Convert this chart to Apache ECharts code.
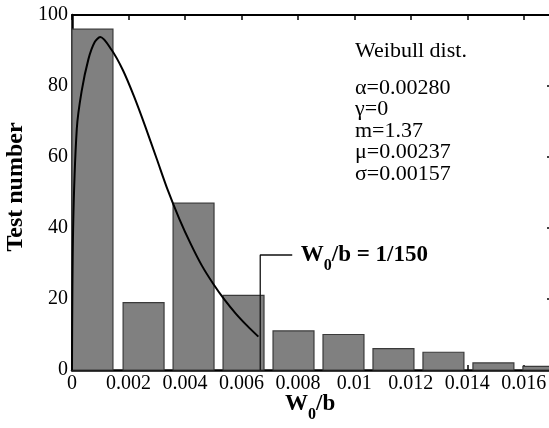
<!DOCTYPE html>
<html>
<head>
<meta charset="utf-8">
<script src="https://cdn.jsdelivr.net/npm/echarts@6/dist/echarts.min.js"></script>
<style>html,body{margin:0;padding:0;background:#fff;}#c{width:549px;height:428px;}</style>
</head>
<body>
<div id="c"></div>
<script>
// ---- data ----
const binStart = [0, 0.00181, 0.00358, 0.00535, 0.00712, 0.00889, 0.01066, 0.01243, 0.0142, 0.01597];
const binEnd   = [0.00145, 0.00326, 0.00503, 0.0068, 0.00857, 0.01034, 0.01211, 0.01388, 0.01565, 0.01742];
const testCounts = [96, 19, 47, 21, 11, 10, 6, 5, 2, 1];
const curveX = [0, 0.00004, 0.00017, 0.00034, 0.00058, 0.0008, 0.001, 0.0014, 0.0018, 0.0022, 0.0026, 0.003, 0.0034, 0.0038, 0.0042, 0.0046, 0.005, 0.0054, 0.0058, 0.0062, 0.0066];
const curveY = [0, 40, 68, 78.5, 87.5, 92.3, 93.8, 90.2, 84.5, 77, 68.5, 59.5, 50.5, 42.6, 35.6, 29.4, 24.3, 19.8, 15.9, 12.5, 9.4];
const annotX = [1/150, 1/150, 0.0078];
const annotY = [0, 32.4, 32.4];
const legendLines = ['\u03b1=0.00280', '\u03b3=0', 'm=1.37', '\u03bc=0.00237', '\u03c3=0.00157'];
const xTickStep = 0.002;
const yTickStep = 20;

const serif = '"Liberation Serif", "Times New Roman", serif';
const chart = echarts.init(document.getElementById('c'), null, {renderer: 'canvas'});

const barData = testCounts.map((c, i) => [binStart[i], binEnd[i], c]);
const curveData = curveX.map((x, i) => [x, curveY[i]]);
const annotData = annotX.map((x, i) => [x, annotY[i]]);

const fmtX = v => {
  if (Math.abs(v / xTickStep - Math.round(v / xTickStep)) > 1e-6) return '';
  return String(+v.toFixed(3));
};

const richSub = {
  b: {fontFamily: serif, fontWeight: 'bold', fontSize: 23, color: '#000', lineHeight: 30, verticalAlign: 'top'},
  s: {fontFamily: serif, fontWeight: 'bold', fontSize: 16, color: '#000', lineHeight: 30, verticalAlign: 'bottom'}
};

const option = {
  animation: false,
  backgroundColor: '#fff',
  grid: {left: 72, top: 15, width: 480, height: 355, containLabel: false, outerBoundsMode: 'none'},
  xAxis: [
    {
      type: 'value', position: 'bottom', min: 0, max: 0.017, interval: xTickStep,
      axisLine: {show: true, onZero: false, lineStyle: {color: '#000', width: 2.5}},
      axisTick: {show: true, inside: true, length: 5, lineStyle: {color: '#000', width: 1.5}},
      axisLabel: {formatter: fmtX, showMaxLabel: false, color: '#000', fontFamily: serif, fontSize: 20, margin: 4},
      splitLine: {show: false}
    },
    {
      type: 'value', position: 'top', min: 0, max: 0.017, interval: xTickStep,
      axisLine: {show: true, onZero: false, lineStyle: {color: '#000', width: 2}},
      axisTick: {show: true, inside: true, length: 5, lineStyle: {color: '#000', width: 1.5}},
      axisLabel: {show: false},
      splitLine: {show: false}
    }
  ],
  yAxis: [
    {
      type: 'value', position: 'left', min: 0, max: 100, interval: yTickStep,
      axisLine: {show: true, onZero: false, lineStyle: {color: '#000', width: 2.5}},
      axisTick: {show: true, inside: true, length: 5, lineStyle: {color: '#000', width: 1.5}},
      axisLabel: {color: '#000', fontFamily: serif, fontSize: 20, margin: 4},
      splitLine: {show: false}
    },
    {
      type: 'value', position: 'right', min: 0, max: 100, interval: yTickStep,
      axisLine: {show: true, onZero: false, lineStyle: {color: '#000', width: 2}},
      axisTick: {show: true, inside: true, length: 5, lineStyle: {color: '#000', width: 1.5}},
      axisLabel: {show: false},
      splitLine: {show: false}
    }
  ],
  series: [
    {
      type: 'custom',
      xAxisIndex: 0, yAxisIndex: 0,
      data: barData,
      encode: {x: [0, 1], y: 2},
      z: 2,
      renderItem: function (params, api) {
        const p0 = api.coord([api.value(0), api.value(2)]);
        const p1 = api.coord([api.value(1), 0]);
        const rect = echarts.graphic.clipRectByRect(
          {x: p0[0], y: p0[1], width: p1[0] - p0[0], height: p1[1] - p0[1]},
          {x: params.coordSys.x, y: params.coordSys.y - 2, width: params.coordSys.width + 5, height: params.coordSys.height + 2}
        );
        if (!rect) return;
        return {
          type: 'rect',
          shape: rect,
          style: {fill: '#808080', stroke: '#3a3a3a', lineWidth: 1.2}
        };
      }
    },
    {
      type: 'line',
      xAxisIndex: 0, yAxisIndex: 0,
      data: curveData,
      showSymbol: false,
      smooth: 0.3,
      z: 4,
      lineStyle: {color: '#000', width: 2}
    },
    {
      type: 'line',
      xAxisIndex: 0, yAxisIndex: 0,
      data: annotData,
      showSymbol: false,
      symbol: 'none',
      z: 5,
      lineStyle: {color: '#111', width: 1.3},
      silent: true
    },
    {
      type: 'scatter',
      xAxisIndex: 0, yAxisIndex: 0,
      data: [annotData[annotData.length - 1]],
      symbol: 'circle',
      symbolSize: 1,
      itemStyle: {color: 'rgba(255,255,255,0)'},
      z: 6,
      silent: true,
      label: {
        show: true, position: 'right', distance: 8, offset: [0, 4],
        color: '#000', opacity: 1, textBorderWidth: 0,
        formatter: '{b|W}{s|0}{b|/b = 1/150}',
        rich: richSub
      }
    }
  ],
  graphic: [
    {
      type: 'text', left: 355, top: 40,
      style: {text: 'Weibull dist.', fontFamily: serif, fontSize: 22, fill: '#000'}
    },
    {
      type: 'text', left: 355, top: 77,
      style: {text: legendLines.join('\n'), fontFamily: serif, fontSize: 22, lineHeight: 21.5, fill: '#000'}
    },
    {
      type: 'text', x: 16, y: 187, rotation: Math.PI / 2,
      style: {text: 'Test number', fontFamily: serif, fontWeight: 'bold', fontSize: 24, fill: '#000', align: 'center', verticalAlign: 'middle'}
    },
    {
      type: 'text', left: 285, top: 393,
      style: {
        text: '{b|W}{s|0}{b|/b}',
        rich: {
          b: {fontFamily: serif, fontWeight: 'bold', fontSize: 23, fill: '#000', lineHeight: 30, verticalAlign: 'top'},
          s: {fontFamily: serif, fontWeight: 'bold', fontSize: 16, fill: '#000', lineHeight: 30, verticalAlign: 'bottom'}
        }
      }
    }
  ]
};
chart.setOption(option);
</script>
</body>
</html>
